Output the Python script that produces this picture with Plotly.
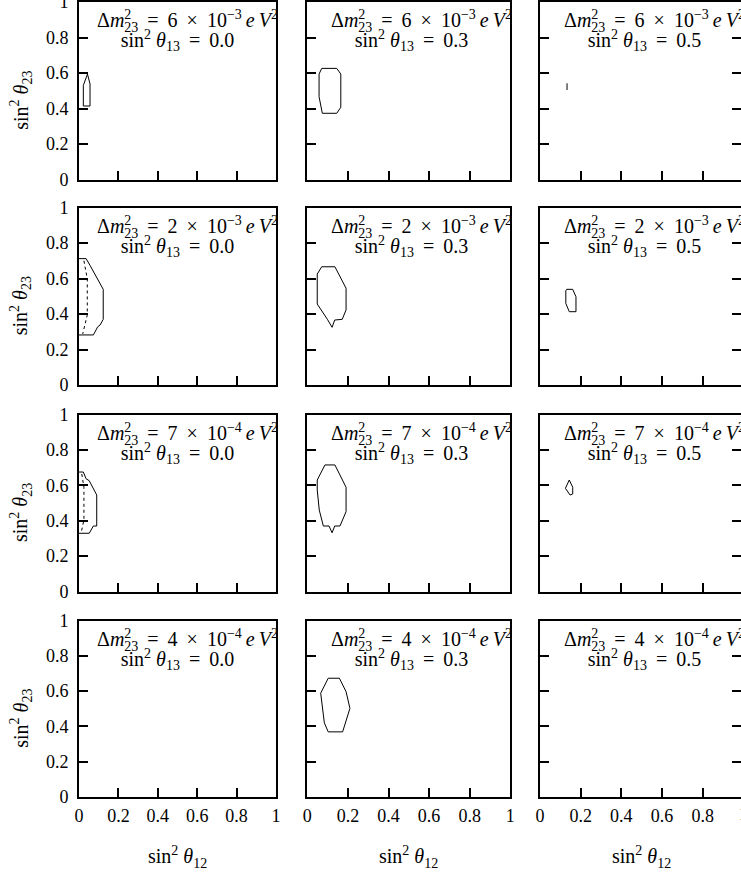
import plotly.graph_objects as go

# ---------------- data ----------------
dm23_mantissa = ["6", "2", "7", "4"]          # Δm²₂₃ = mantissa × 10^exponent eV²
dm23_exponent = ["−3", "−3", "−4", "−4"]
s13_values = ["0.0", "0.3", "0.5"]            # sin²θ13 per column
tick_vals = [0, 0.2, 0.4, 0.6, 0.8, 1]
tick_text = ["0", "0.2", "0.4", "0.6", "0.8", "1"]

# allowed-region contours in the (sin²θ12, sin²θ23) plane
c_6e3_00_x = [0.022, 0.056, 0.056, 0.043, 0.022, 0.022]
c_6e3_00_y = [0.414, 0.414, 0.538, 0.594, 0.530, 0.414]

c_6e3_03_x = [0.071, 0.145, 0.165, 0.165, 0.145, 0.074, 0.058, 0.058, 0.071]
c_6e3_03_y = [0.626, 0.626, 0.594, 0.407, 0.373, 0.373, 0.466, 0.594, 0.626]

c_6e3_05_x = [0.133, 0.133]
c_6e3_05_y = [0.504, 0.542]

c_2e3_00_x = [0.0, 0.036, 0.056, 0.123, 0.123, 0.107, 0.095, 0.073, 0.0]
c_2e3_00_y = [0.712, 0.712, 0.674, 0.539, 0.370, 0.338, 0.328, 0.282, 0.282]
d_2e3_00_x = [0.025, 0.042, 0.042, 0.019]
d_2e3_00_y = [0.700, 0.599, 0.394, 0.288]

c_2e3_03_x = [0.071, 0.136, 0.191, 0.191, 0.172, 0.135, 0.122, 0.099, 0.049, 0.049, 0.071]
c_2e3_03_y = [0.666, 0.666, 0.545, 0.423, 0.370, 0.366, 0.325, 0.370, 0.456, 0.625, 0.666]

c_2e3_05_x = [0.131, 0.161, 0.177, 0.177, 0.144, 0.127, 0.127, 0.131]
c_2e3_05_y = [0.539, 0.539, 0.497, 0.413, 0.413, 0.460, 0.531, 0.539]

c_7e4_00_x = [0.0, 0.022, 0.036, 0.052, 0.090, 0.090, 0.073, 0.052, 0.0]
c_7e4_00_y = [0.675, 0.675, 0.637, 0.626, 0.545, 0.370, 0.370, 0.329, 0.329]
d_7e4_00_x = [0.014, 0.025, 0.025, 0.012]
d_7e4_00_y = [0.664, 0.589, 0.404, 0.338]

c_7e4_03_x = [0.087, 0.136, 0.191, 0.191, 0.161, 0.135, 0.122, 0.107, 0.079, 0.059, 0.049, 0.049, 0.087]
c_7e4_03_y = [0.715, 0.715, 0.589, 0.451, 0.370, 0.370, 0.332, 0.370, 0.370, 0.460, 0.573, 0.630, 0.715]

c_7e4_05_x = [0.144, 0.161, 0.161, 0.148, 0.125, 0.144]
c_7e4_05_y = [0.630, 0.589, 0.551, 0.545, 0.583, 0.630]

c_4e4_03_x = [0.103, 0.158, 0.191, 0.210, 0.174, 0.103, 0.084, 0.066, 0.103]
c_4e4_03_y = [0.673, 0.673, 0.597, 0.502, 0.369, 0.369, 0.420, 0.588, 0.673]

# (row, col, x, y)
solid_curves = [
    (0, 0, c_6e3_00_x, c_6e3_00_y),
    (0, 1, c_6e3_03_x, c_6e3_03_y),
    (0, 2, c_6e3_05_x, c_6e3_05_y),
    (1, 0, c_2e3_00_x, c_2e3_00_y),
    (1, 1, c_2e3_03_x, c_2e3_03_y),
    (1, 2, c_2e3_05_x, c_2e3_05_y),
    (2, 0, c_7e4_00_x, c_7e4_00_y),
    (2, 1, c_7e4_03_x, c_7e4_03_y),
    (2, 2, c_7e4_05_x, c_7e4_05_y),
    (3, 1, c_4e4_03_x, c_4e4_03_y),
]
dotted_curves = [
    (1, 0, d_2e3_00_x, d_2e3_00_y),
    (2, 0, d_7e4_00_x, d_7e4_00_y),
]

# ---------------- layout geometry (pixels) ----------------
W, H = 741, 873
COLS = [(79.0, 276.0), (307.3, 510.3), (540.0, 743.3)]
ROWS = [(2.0, 179.5), (207.5, 385.0), (414.5, 591.5), (620.5, 797.0)]
FONT = "Liberation Serif, DejaVu Serif, serif"
TXT = dict(family=FONT, size=18, color="black")
TH = "\u2009"   # thin space used in the math-style labels
EN = "\u2002"   # en space, pads the second label line


def px_x(p):
    return p / W


def px_y(p):
    return 1 - p / H


def ax_name(kind, i):
    return kind if i == 1 else f"{kind}{i}"


def ref(kind, i):
    return kind if i == 1 else f"{kind}{i}"


fig = go.Figure()
layout = {}

for r in range(4):
    for c in range(3):
        i = r * 3 + c + 1
        left, right = COLS[c]
        top, bottom = ROWS[r]
        dom_right = min(right, W)
        xmax = (dom_right - left) / (right - left)
        common = dict(
            showline=True, linecolor="black", linewidth=2,
            ticks="inside", ticklen=9, tickwidth=1.5, tickcolor="black",
            tickvals=tick_vals, ticktext=tick_text,
            showgrid=False, zeroline=False, tickfont=TXT,
            automargin=False, ticklabeloverflow="allow",
        )
        layout[ax_name("xaxis", i)] = dict(
            common, domain=[px_x(left), px_x(dom_right)], range=[0, xmax],
            anchor=ref("y", i), mirror=True, showticklabels=(r == 3),
            ticklabelstandoff=1,
        )
        layout[ax_name("yaxis", i)] = dict(
            common, domain=[px_y(bottom), px_y(top)], range=[0, 1],
            anchor=ref("x", i), mirror=(c < 2), showticklabels=(c == 0),
            ticklabelstandoff=5,
        )
        fig.add_trace(go.Scatter(x=[], y=[], xaxis=ref("x", i), yaxis=ref("y", i),
                                 showlegend=False, hoverinfo="skip"))
        if c == 2:
            # right-hand tick marks of the last column
            j = 13 + r
            layout[ax_name("yaxis", j)] = dict(
                overlaying=ref("y", i), side="right", anchor=ref("x", i),
                range=[0, 1], tickvals=tick_vals, ticks="inside", ticklen=9,
                tickwidth=1.5, tickcolor="black", showline=False,
                showticklabels=False, showgrid=False, zeroline=False,
                automargin=False,
            )
            fig.add_trace(go.Scatter(x=[], y=[], xaxis=ref("x", i), yaxis=ref("y", j),
                                     showlegend=False, hoverinfo="skip"))

for r, c, xs, ys in solid_curves:
    i = r * 3 + c + 1
    fig.add_trace(go.Scatter(x=xs, y=ys, mode="lines", xaxis=ref("x", i), yaxis=ref("y", i),
                             line=dict(color="black", width=1), showlegend=False))
for r, c, xs, ys in dotted_curves:
    i = r * 3 + c + 1
    fig.add_trace(go.Scatter(x=xs, y=ys, mode="lines", xaxis=ref("x", i), yaxis=ref("y", i),
                             line=dict(color="black", width=1, dash="dot"), showlegend=False))


def big(s):
    return f"<span style='font-size:20px'>{s}</span>"


annotations = []
for r in range(4):
    top, bottom = ROWS[r]
    for c in range(3):
        left, right = COLS[c]
        # superscript 2 steps back so the subscript 23 sits underneath it
        line1 = big(
            f"Δ<i>m</i><sup><span style='letter-spacing:-7px'>2</span></sup><sub>23</sub>"
            f"{TH} ={TH} {dm23_mantissa[r]}{TH} ×{TH} 10<sup>{dm23_exponent[r]}</sup>"
            f"{TH}<i>e</i>{TH}<i>V</i><sup>2</sup>"
        )
        line2 = big(f"sin<sup>2</sup> <i>θ</i><sub>13</sub>{TH} ={TH} {s13_values[c]}{EN}{EN}")
        annotations.append(dict(
            text=f"{line1}<br>{line2}",
            x=px_x(right - 89), y=px_y(top + 29), xref="paper", yref="paper",
            xanchor="center", yanchor="middle", align="center", showarrow=False,
            borderpad=0, font=dict(family=FONT, size=15, color="black"),
        ))
    # y-axis title
    annotations.append(dict(
        text="sin<sup>2</sup> <i>θ</i><sub>23</sub>",
        x=px_x(21), y=px_y((top + bottom) / 2 + 10), xref="paper", yref="paper",
        xanchor="center", yanchor="middle", textangle=-90, showarrow=False,
        font=dict(family=FONT, size=20, color="black"),
    ))

for c in range(3):
    left, right = COLS[c]
    annotations.append(dict(
        text="sin<sup>2</sup> <i>θ</i><sub>12</sub>",
        x=px_x((left + right) / 2), y=px_y(857), xref="paper", yref="paper",
        xanchor="center", yanchor="middle", showarrow=False,
        font=dict(family=FONT, size=20, color="black"),
    ))

# last-column end label at sin²θ12 = 1
annotations.append(dict(
    text="1", x=px_x(COLS[2][1]), y=px_y(814), xref="paper", yref="paper",
    xanchor="center", yanchor="middle", showarrow=False, font=TXT,
))

fig.update_layout(
    **layout,
    annotations=annotations,
    width=W, height=H,
    margin=dict(l=0, r=0, t=0, b=0, pad=0, autoexpand=False),
    paper_bgcolor="white", plot_bgcolor="white",
    showlegend=False,
)

fig.write_html("out.html", config={"displayModeBar": False})
